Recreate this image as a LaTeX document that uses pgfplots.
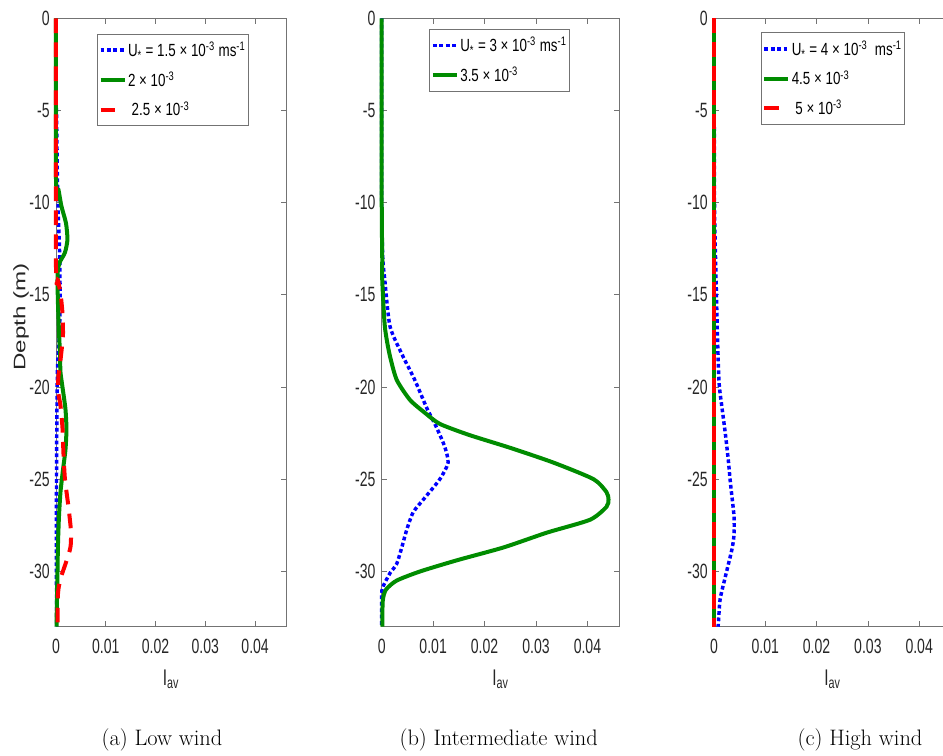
\documentclass[border=0pt]{standalone}
\usepackage{pgfplots}
\pgfplotsset{compat=1.18}
\usepackage{fontspec}
\newfontfamily\matfont[FakeStretch=0.68]{Liberation Sans}
\newfontfamily\legfont[FakeStretch=0.76]{Liberation Sans}
\newfontfamily\rotfont[FakeStretch=1.45]{Liberation Sans}
\definecolor{mblue}{RGB}{0,0,255}
\definecolor{mgreen}{RGB}{0,140,0}
\definecolor{mred}{RGB}{255,0,0}
\pgfplotsset{
  panel/.style={
    scale only axis, height=456.2pt,
    xmin=0, xmax=0.0462, ymin=-33, ymax=0,
    clip=false, scaled x ticks=false, scaled y ticks=false,
    xtick={0,0.01,0.02,0.03,0.04}, xticklabels={0,0.01,0.02,0.03,0.04},
    ytick={0,-5,-10,-15,-20,-25,-30}, yticklabels={0,-5,-10,-15,-20,-25,-30},
    tick align=inside, major tick length=4pt,
    axis line style={black!55, line width=0.6pt},
    tick style={black!55, line width=0.6pt},
    every tick label/.append style={font=\matfont\fontsize{15.5}{16}\selectfont, text=black!85},
    xticklabel style={inner sep=0pt, anchor=north, yshift=-9pt},
    yticklabel style={inner sep=0pt, anchor=east, xshift=-4.5pt},
    xlabel={I\textsubscript{av}},
    xlabel style={at={(rel axis cs:0.5,0)}, anchor=north, inner sep=0pt, yshift=-32pt, font=\matfont\fontsize{17}{17}\selectfont, text=black!85},
    legend cell align=left,
    legend image code/.code={\draw[##1] (0pt,0pt) -- (18pt,0pt);},
    legend style={anchor=north west, draw=black!55, line width=0.6pt, fill=white,
      font=\legfont\fontsize{13.2}{14}\selectfont, inner xsep=1pt, inner ysep=4pt, row sep=6pt,
      nodes={inner xsep=1pt}},
  },
  bl/.style={mblue, line width=2.6pt, dash pattern=on 2.8pt off 2pt, smooth, tension=0.4},
  gr/.style={mgreen, line width=3pt, smooth, tension=0.4},
  rd/.style={mred, line width=3pt, dash pattern=on 11pt off 7pt, smooth, tension=0.4},
}
\begin{document}
\begin{tikzpicture}
% (a)
\begin{axis}[panel, at={(42pt,-13.8pt)}, anchor=north west, width=172.5pt,
  legend style={at={(rel axis cs:0.178,0.975)}}]
\addplot[bl] coordinates {(0,0) (0,-4.5) (0.0001,-5) (0.0002,-7) (0.0003,-9) (0.0005,-11) (0.0007,-12.5) (0.0008,-14) (0.0008,-16) (0.0006,-17.5) (0.0003,-19) (0.0002,-21) (0.0001,-25) (0.0001,-33)};
\addlegendentry{U\textsubscript{*} = 1.5 × 10\textsuperscript{-3} ms\textsuperscript{-1}}
\addplot[gr] coordinates {(0,0) (0,-8.7) (0.0005,-9.3) (0.0011,-10.2) (0.002,-11.1) (0.0023,-12.0) (0.0018,-12.7) (0.0008,-13.2) (0.0004,-13.6) (0.0003,-14.2) (0.0004,-15.5) (0.0006,-17) (0.0008,-18.2) (0.0009,-19.2) (0.0013,-20) (0.0019,-21.2) (0.0021,-22.3) (0.0019,-23.4) (0.0014,-24.5) (0.0009,-25.7) (0.0006,-27) (0.0004,-28.5) (0.0003,-30) (0.0002,-31.5) (0.0001,-33)};
\addlegendentry{2 × 10\textsuperscript{-3}}
\addplot[rd] coordinates {(0,0) (0,-13.5) (0.0004,-14.2) (0.0009,-14.9) (0.0013,-16) (0.0014,-17.2) (0.0010,-18.3) (0.0005,-19.4) (0.0004,-20.2) (0.0009,-21) (0.0013,-22.2) (0.0015,-23.6) (0.0018,-25) (0.0025,-26.5) (0.003,-27.8) (0.0029,-28.7) (0.0019,-29.6) (0.0009,-30.4) (0.0004,-31.2) (0.0003,-33)};
\addlegendentry{\ 2.5 × 10\textsuperscript{-3}}
\end{axis}
% (b)
\begin{axis}[panel, at={(286.3pt,-13.8pt)}, anchor=north west, width=178.2pt,
  legend style={at={(rel axis cs:0.2,0.983)}}]
\addplot[bl] coordinates {(0,0) (0,-10) (0.0002,-13) (0.0006,-14.2) (0.0016,-16.7) (0.0039,-18.2) (0.0064,-19.6) (0.0087,-21.1) (0.0105,-22.1) (0.0122,-23.2) (0.0129,-24.1) (0.0113,-25.0) (0.0084,-26.0) (0.0061,-26.8) (0.0048,-27.8) (0.0039,-28.7) (0.0029,-29.6) (0.0016,-30.1) (0.0003,-30.8) (0,-31.2) (0,-33)};
\addlegendentry{U\textsubscript{*} = 3 × 10\textsuperscript{-3} ms\textsuperscript{-1}}
\addplot[gr] coordinates {(0,0) (0,-10) (0.0001,-13) (0.0001,-14.2) (0.0006,-16.7) (0.0015,-18.2) (0.0029,-19.6) (0.0055,-20.7) (0.0084,-21.4) (0.0113,-22.0) (0.017,-22.6) (0.025,-23.3) (0.0334,-24.1) (0.0412,-25.0) (0.0437,-25.7) (0.0441,-26.1) (0.0437,-26.5) (0.0405,-27.2) (0.0321,-27.9) (0.0237,-28.7) (0.0146,-29.4) (0.0075,-30.0) (0.0029,-30.5) (0.0008,-31.0) (0.0002,-31.6) (0.0001,-33)};
\addlegendentry{3.5 × 10\textsuperscript{-3}}
\end{axis}
% (c)
\begin{axis}[panel, at={(535.5pt,-13.8pt)}, anchor=north west, width=177.75pt,
  legend style={at={(rel axis cs:0.197,0.977)}}]
\addplot[bl] coordinates {(0,0) (0.0001,-10) (0.0003,-13) (0.0005,-15.3) (0.0007,-17.5) (0.001,-19.8) (0.0015,-21) (0.0022,-22.5) (0.0028,-24) (0.0032,-25.2) (0.0039,-27) (0.0039,-28) (0.0035,-28.8) (0.0022,-30.3) (0.0012,-31.5) (0.0009,-32.6) (0.0008,-33)};
\addlegendentry{U\textsubscript{*} = 4 × 10\textsuperscript{-3}\ \ ms\textsuperscript{-1}}
\addplot[gr] coordinates {(0,0) (0,-33)};
\addlegendentry{4.5 × 10\textsuperscript{-3}}
\addplot[rd] coordinates {(0,0) (0,-33)};
\addlegendentry{\ 5 × 10\textsuperscript{-3}}
\end{axis}
\node[rotate=90, anchor=south, inner sep=0pt, font=\rotfont\fontsize{12.5}{13}\selectfont, text=black!85] at (21.75pt,-237.75pt) {Depth (m)};
\node[anchor=base, inner sep=0pt, font=\fontsize{16.8}{20}\selectfont] at (121.5pt,-558.75pt) {(a) Low wind};
\node[anchor=base, inner sep=0pt, font=\fontsize{16.8}{20}\selectfont] at (374pt,-558.75pt) {(b) Intermediate wind};
\node[anchor=base, inner sep=0pt, font=\fontsize{16.8}{20}\selectfont] at (645pt,-558.75pt) {(c) High wind};
\pgfresetboundingbox
\useasboundingbox (0,0) rectangle (707.25pt,-567pt);
\end{tikzpicture}
\end{document}
